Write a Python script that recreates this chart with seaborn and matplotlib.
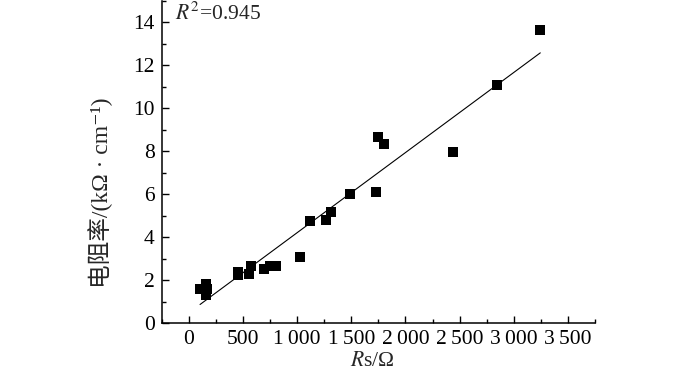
import seaborn as sns
import matplotlib.pyplot as plt
import matplotlib.ticker as mticker
import pandas as pd

# values
rs = [104, 162, 171, 162, 450, 456, 553, 572, 691, 752, 804, 1025,
      1116, 1266, 1309, 1492, 1725, 1746, 1801, 2443, 2847, 3245]
rho = [1.61, 1.81, 1.61, 1.30, 2.36, 2.23, 2.28, 2.68, 2.51, 2.65, 2.68, 3.07,
       4.73, 4.82, 5.18, 6.03, 6.09, 8.68, 8.33, 7.97, 11.08, 13.64]
x_ticks = [0, 500, 1000, 1500, 2000, 2500, 3000, 3500]
y_ticks = [0, 2, 4, 6, 8, 10, 12, 14]
r2_text = "$R^2$=0.945"


def main():
    data = pd.DataFrame({"Rs": rs, "rho": rho})
    sns.set_style("ticks")
    plt.rcParams["font.family"] = ["Liberation Serif", "Noto Sans CJK SC", "DejaVu Sans"]
    plt.rcParams["mathtext.fontset"] = "stix"

    fig = plt.figure(figsize=(7, 3.71), dpi=100)
    ax = fig.add_axes([0.231, 0.129, 0.619, 0.869])

    sns.regplot(data=data, x="Rs", y="rho", ci=None, ax=ax,
                marker="s", color="black",
                scatter_kws={"s": 42, "linewidths": 0, "alpha": 1},
                line_kws={"linewidth": 0.8})

    ax.set_xlim(-250, 3750)
    ax.set_ylim(0, 15)
    ax.set_xticks(x_ticks)
    ax.set_yticks(y_ticks)
    ax.set_xticklabels([f"{v:,}".replace(",", "\u2009") for v in x_ticks])
    ax.set_yticklabels([str(v) for v in y_ticks])
    ax.xaxis.set_minor_locator(mticker.MultipleLocator(250))
    ax.yaxis.set_minor_locator(mticker.MultipleLocator(1))
    ax.tick_params(which="both", direction="in", width=1.0, labelsize=15.5,
                   colors="black", pad=5)
    ax.tick_params(which="major", length=5)
    ax.tick_params(which="minor", length=3)
    sns.despine(ax=ax)
    for s in ["left", "bottom"]:
        ax.spines[s].set_linewidth(1.1)
        ax.spines[s].set_color("black")

    ax.set_xlabel("$R$s/Ω", fontsize=15.5)
    ax.set_ylabel("电阻率/(kΩ · cm⁻¹)", fontsize=17)
    ax.xaxis.set_label_coords(0.485, -0.088)
    ax.yaxis.set_label_coords(-0.113, 0.405)

    ax.text(0.03, 0.995, r2_text, transform=ax.transAxes, fontsize=15.5,
            va="top", ha="left")

    fig.savefig("out.png", dpi=100)


main()
